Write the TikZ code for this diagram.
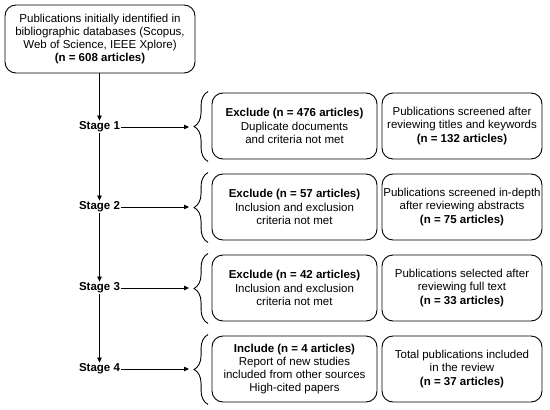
\documentclass[tikz,border=0pt]{standalone}
\usepackage{fontspec}
\setmainfont{Liberation Sans}
\usetikzlibrary{decorations.pathreplacing,arrows.meta}
\begin{document}
\begin{tikzpicture}[x=1pt,y=-1pt,
  box/.style={draw,line width=0.9pt,rounded corners=11pt,align=center,inner sep=0pt,
    font=\fontsize{11.5}{13.3}\selectfont},
  stagelbl/.style={font=\fontsize{11.5}{13.3}\selectfont\bfseries,inner sep=1pt},
  arr/.style={line width=0.8pt,-{Triangle[length=5pt,width=4.5pt]}},
  brc/.style={line width=0.9pt,decorate,decoration={brace,amplitude=14pt,aspect=0.5}}]
\useasboundingbox (0,0) rectangle (550,410);
\node[box,minimum width=190pt,minimum height=68pt] (top) at (100,39)
  {Publications initially identified in\\bibliographic databases (Scopus,\\Web of Science, IEEE Xplore)\\\textbf{(n = 608 articles)}};
\node[stagelbl] (s1) at (99.5,127) {Stage 1};
\node[stagelbl] (s2) at (99.5,207) {Stage 2};
\node[stagelbl] (s3) at (99.5,288) {Stage 3};
\node[stagelbl] (s4) at (99.5,369) {Stage 4};
\draw[arr] (top.south -| s1.north) -- (s1.north);
\draw[arr] (s1) -- (s2);
\draw[arr] (s2) -- (s3);
\draw[arr] (s3) -- (s4);
\foreach \i/\y in {1/127,2/207,3/288,4/369}{
  \coordinate (t\i) at (189,\y);
  \draw[arr] (s\i.east) -- (t\i);
}
% boxes
\node[box,minimum width=165pt,minimum height=66pt] (l1) at (294.5,126)
  {\textbf{Exclude (n = 476 articles)}\\Duplicate documents\\and criteria not met};
\node[box,minimum width=160pt,minimum height=66pt] (r1) at (462,126)
  {Publications screened after\\reviewing titles and keywords\\\textbf{(n = 132 articles)}};
\node[box,minimum width=165pt,minimum height=66pt] (l2) at (294.5,207)
  {\textbf{Exclude (n = 57 articles)}\\Inclusion and exclusion\\criteria not met};
\node[box,minimum width=160pt,minimum height=66pt] (r2) at (462,207)
  {Publications screened in-depth\\after reviewing abstracts\\\textbf{(n = 75 articles)}};
\node[box,minimum width=165pt,minimum height=66pt] (l3) at (294.5,288)
  {\textbf{Exclude (n = 42 articles)}\\Inclusion and exclusion\\criteria not met};
\node[box,minimum width=160pt,minimum height=66pt] (r3) at (462,288)
  {Publications selected after\\reviewing full text\\\textbf{(n = 33 articles)}};
\node[box,minimum width=165pt,minimum height=66pt] (l4) at (294.5,369)
  {\textbf{Include (n = 4 articles)}\\Report of new studies\\included from other sources\\High-cited papers};
\node[box,minimum width=160pt,minimum height=66pt] (r4) at (462,369)
  {Total publications included\\in the review\\\textbf{(n = 37 articles)}};
% braces
\foreach \i in {1,2,3,4}{
  \draw[brc] ([xshift=-3.5pt,yshift=-2pt]l\i.south west) -- ([xshift=-3.5pt,yshift=1pt]l\i.north west);
}
\end{tikzpicture}
\end{document}
